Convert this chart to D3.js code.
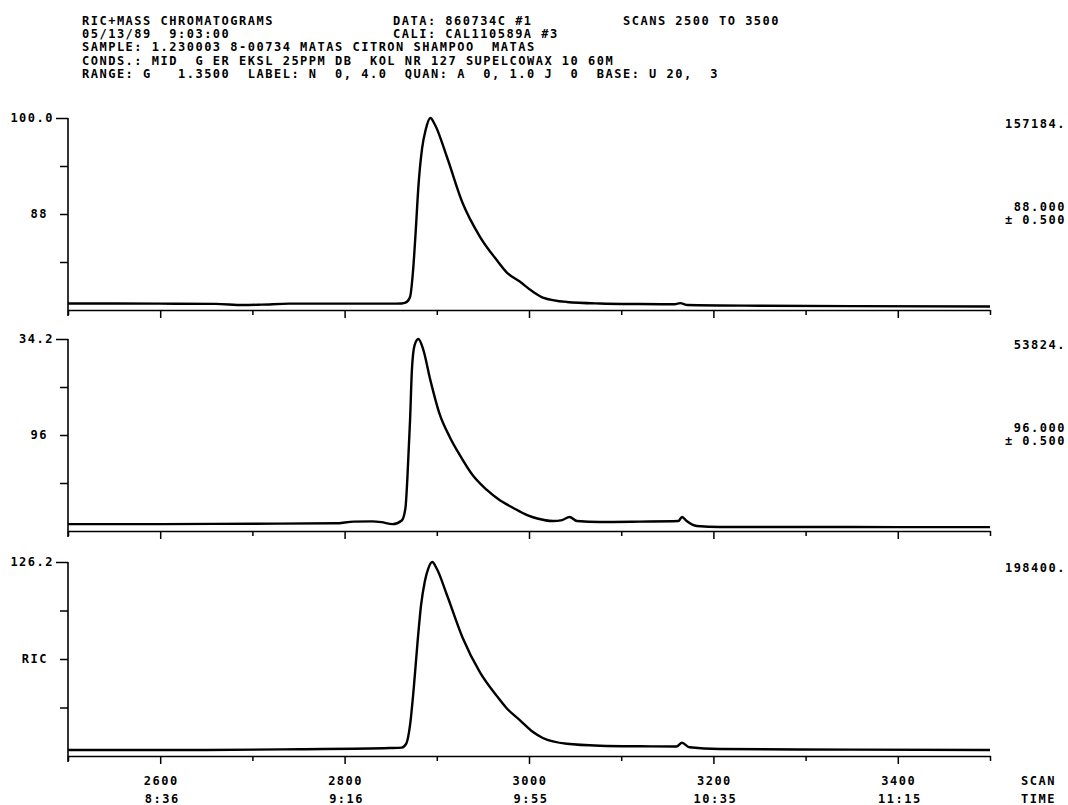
<!DOCTYPE html>
<html><head><meta charset="utf-8">
<script src="https://cdn.jsdelivr.net/npm/d3@7"></script>
<style>
body{margin:0;background:#fff}
svg text{font-family:"DejaVu Sans Mono","Liberation Mono",monospace;font-weight:bold;font-size:12px;fill:#000;letter-spacing:1.5px;white-space:pre}
</style></head><body><svg id="c" width="1068" height="805" xml:space="preserve"></svg>
<script>
// ---------- data ----------
const headerLeft = [
  "RIC+MASS CHROMATOGRAMS",
  "05/13/89  9:03:00",
  "SAMPLE: 1.230003 8-00734 MATAS CITRON SHAMPOO  MATAS",
  "CONDS.: MID  G ER EKSL 25PPM DB  KOL NR 127 SUPELCOWAX 10 60M",
  "RANGE: G   1.3500  LABEL: N  0, 4.0  QUAN: A  0, 1.0 J  0  BASE: U 20,  3"
];
const headerMid = ["DATA: 860734C #1", "CALI: CAL110589A #3"];
const headerRight = ["SCANS 2500 TO 3500"];

const xTickScans = [2500, 2600, 2700, 2800, 2900, 3000, 3100, 3200, 3300, 3400, 3500];
const xMajorScans = [2600, 2800, 3000, 3200, 3400];
const xTimeLabels = ["8:36", "9:16", "9:55", "10:35", "11:15"];

const panelTopLabels = ["100.0", "34.2", "126.2"];
const panelMidLabels = ["88", "96", "RIC"];
const panelMaxCounts = ["157184.", "53824.", "198400."];
const panelMassLabels = ["88.000", "96.000", ""];
const panelTolLabels = ["\u00b1 0.500", "\u00b1 0.500", ""];

// m/z 88 (percent of panel full scale)
const scans88 = [2500, 2600, 2660, 2690, 2710, 2740, 2800, 2850, 2862, 2866, 2871, 2874, 2877, 2880, 2884, 2888, 2893, 2898, 2911, 2928, 2947, 2965, 2976, 2990, 3004, 3015, 3041, 3077, 3120, 3158, 3164, 3172, 3250, 3350, 3500];
const int88   = [3.4, 3.3, 3.2, 2.6, 2.8, 3.3, 3.3, 3.3, 3.4, 3.8, 6.8, 19, 40, 64, 84, 94, 100, 96.5, 79.7, 55.7, 38, 26, 19.5, 14.8, 9.6, 6.5, 4.2, 3.4, 3.1, 3.0, 3.6, 2.6, 2.2, 2.0, 1.8];

// m/z 96
const scans96 = [2500, 2600, 2700, 2790, 2810, 2830, 2840, 2852, 2862, 2866, 2868, 2871, 2873, 2876, 2880, 2885, 2893, 2903, 2914, 2925, 2939, 2954, 2968, 2983, 2998, 3009, 3026, 3036, 3044, 3052, 3077, 3120, 3162, 3166, 3171, 3182, 3207, 3300, 3400, 3500];
const int96   = [3.6, 3.6, 3.8, 4.0, 4.9, 5.0, 4.6, 3.6, 5.5, 12, 26.6, 57.8, 83.9, 97, 100, 95, 78.6, 61, 49, 39.5, 29, 21.5, 16.1, 12.0, 8.3, 6.5, 5.2, 5.7, 7.3, 5.2, 4.7, 4.9, 5.2, 7.3, 5.2, 2.6, 2.1, 2.1, 2.0, 2.0];

// RIC
const scansRIC = [2500, 2650, 2752, 2849, 2862, 2867, 2871, 2875, 2879, 2883, 2887, 2891, 2895, 2900, 2911, 2928, 2947, 2965, 2976, 2990, 3004, 3015, 3041, 3077, 3120, 3160, 3166, 3174, 3207, 3350, 3500];
const intRIC   = [3.1, 3.1, 3.5, 4.1, 4.3, 6.5, 16, 35, 58, 78, 90, 97, 100, 96.5, 83, 61, 43, 31, 24.5, 18.5, 12.5, 9.3, 6.3, 5.3, 5.0, 4.9, 6.8, 4.5, 3.6, 3.3, 3.1];

const panelScans = [scans88, scans96, scansRIC];
const panelInts = [int88, int96, intRIC];

// ---------- layout ----------
const panels = [
  {top: 118, bottom: 310},
  {top: 339, bottom: 531},
  {top: 562, bottom: 756}
];
const svg = d3.select("#c");
const x = d3.scaleLinear().domain([2500, 3500]).range([68, 990]);

// header
const hdr = svg.append("g");
hdr.selectAll("text.hl").data(headerLeft).join("text").attr("class","hl")
  .attr("x", 82).attr("y", (d,i) => 25 + i*13.2).text(d => d);
hdr.selectAll("text.hm").data(headerMid).join("text").attr("class","hm")
  .attr("x", 393).attr("y", (d,i) => 25 + i*13.2).text(d => d);
hdr.selectAll("text.hr").data(headerRight).join("text").attr("class","hr")
  .attr("x", 623).attr("y", (d,i) => 25 + i*13.2).text(d => d);

panels.forEach((p, i) => {
  const g = svg.append("g");
  const y = d3.scaleLinear().domain([0, 100]).range([p.bottom, p.top]);

  // left axis
  const ya = g.append("g").attr("transform", `translate(${x(2500)},0)`)
    .call(d3.axisLeft(y).tickValues([25, 50, 75, 100]).tickSize(7).tickSizeOuter(0).tickFormat(""));
  ya.select(".domain").attr("stroke-width", 1.6);
  ya.selectAll(".tick line").attr("stroke-width", 1.5)
    .attr("x2", d => d === 100 ? -12 : -8);
  ya.select(".domain").attr("d", `M0,${y(100)}V${p.bottom + 6}`);

  g.append("text").attr("x", 54).attr("y", y(100) + 4).attr("text-anchor", "end").text(panelTopLabels[i]);
  g.append("text").attr("x", 48).attr("y", y(50) + 4).attr("text-anchor", "end").text(panelMidLabels[i]);

  // bottom axis
  const xa = g.append("g").attr("transform", `translate(0,${p.bottom})`)
    .call(d3.axisBottom(x).tickValues(xTickScans).tickSize(8).tickSizeOuter(0).tickFormat(""));
  xa.select(".domain").attr("stroke-width", 1.6);
  xa.selectAll(".tick line").attr("stroke-width", 1.5)
    .attr("y2", d => xMajorScans.includes(d) ? 8 : 5);

  // right labels
  g.append("text").attr("x", 1066).attr("y", p.top + 10).attr("text-anchor", "end").text(panelMaxCounts[i]);
  if (panelMassLabels[i]) {
    g.append("text").attr("x", 1066).attr("y", y(50) - 3).attr("text-anchor", "end").text(panelMassLabels[i]);
    g.append("text").attr("x", 1066).attr("y", y(50) + 10).attr("text-anchor", "end").text(panelTolLabels[i]);
  }

  // trace
  const pts = panelScans[i].map((s, k) => [s, panelInts[i][k]]);
  g.append("path").datum(pts)
    .attr("fill", "none").attr("stroke", "#000").attr("stroke-width", 2.4).attr("stroke-linejoin", "round")
    .attr("d", d3.line().x(d => x(d[0])).y(d => y(d[1])).curve(d3.curveMonotoneX));

  // bottom labels only on last panel
  if (i === panels.length - 1) {
    const lab = g.append("g");
    lab.selectAll("text.sc").data(xMajorScans).join("text").attr("class","sc")
      .attr("x", d => x(d) + 1).attr("y", p.bottom + 29).attr("text-anchor", "middle").text(d => d);
    lab.selectAll("text.tm").data(xTimeLabels).join("text").attr("class","tm")
      .attr("x", (d,k) => x(xMajorScans[k]) + 2).attr("y", p.bottom + 47).attr("text-anchor", "middle").text(d => d);
    lab.append("text").attr("x", 1021).attr("y", p.bottom + 29).text("SCAN");
    lab.append("text").attr("x", 1021).attr("y", p.bottom + 47).text("TIME");
  }
});
</script></body></html>
